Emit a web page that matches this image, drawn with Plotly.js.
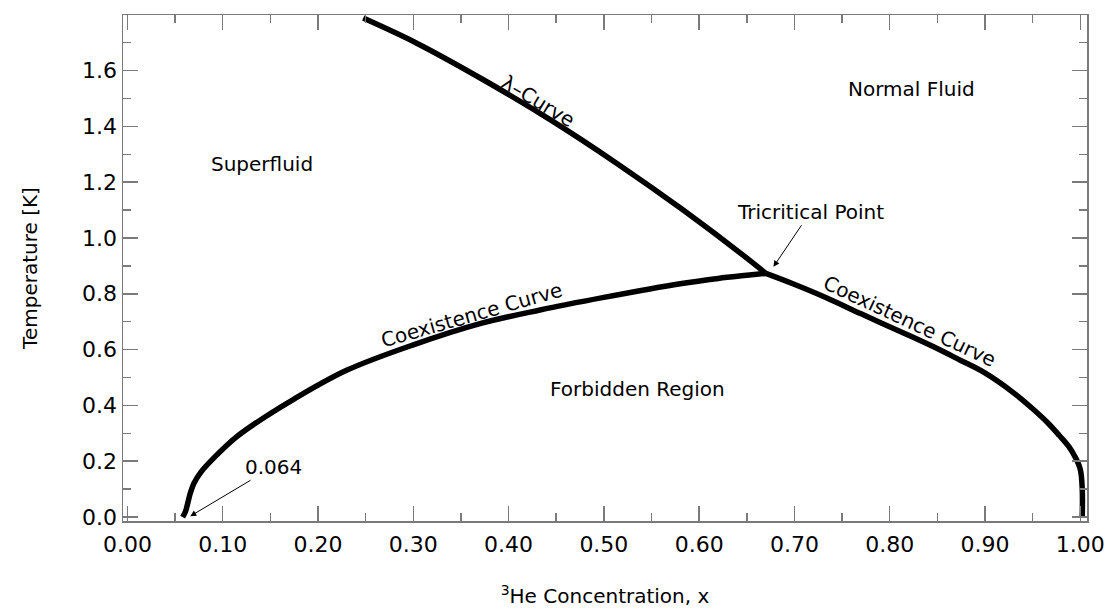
<!DOCTYPE html>
<html>
<head>
<meta charset="utf-8">
<script src="https://cdn.plot.ly/plotly-3.0.1.min.js"></script>
<style>html,body{margin:0;padding:0;background:#fff;}#chart{width:1107px;height:612px;}</style>
</head>
<body>
<div id="chart"></div>
<script>
// Lambda curve (superfluid transition line)
const lambdaX = [0.2475, 0.3036, 0.3735, 0.4436, 0.5137, 0.5836, 0.6537, 0.670];
const lambdaT = [1.788, 1.698, 1.567, 1.424, 1.267, 1.099, 0.918, 0.873];

// Coexistence curve, He-4 rich (left) branch
const coexLeftX = [0.058, 0.061, 0.063, 0.066, 0.070, 0.077, 0.090, 0.1145, 0.146, 0.174, 0.230, 0.300, 0.370, 0.433, 0.500, 0.580, 0.620, 0.650, 0.670];
const coexLeftT = [0.000, 0.020, 0.045, 0.085, 0.122, 0.160, 0.209, 0.287, 0.362, 0.421, 0.5255, 0.617, 0.693, 0.742, 0.787, 0.836, 0.855, 0.866, 0.873];

// Coexistence curve, He-3 rich (right) branch
const coexRightX = [0.670, 0.699, 0.734, 0.770, 0.811, 0.846, 0.874, 0.899, 0.930, 0.950, 0.966, 0.978, 0.988, 0.995, 1.000, 1.002, 1.002];
const coexRightT = [0.873, 0.835, 0.785, 0.728, 0.665, 0.610, 0.562, 0.518, 0.445, 0.388, 0.337, 0.292, 0.252, 0.212, 0.170, 0.100, 0.000];

const xTickVals = [0, 0.1, 0.2, 0.3, 0.4, 0.5, 0.6, 0.7, 0.8, 0.9, 1.0];
const yTickVals = [0, 0.2, 0.4, 0.6, 0.8, 1.0, 1.2, 1.4, 1.6];

const FONT = '"DejaVu Sans", "Liberation Sans", sans-serif';
const lineStyle = {color: '#000', width: 5.5, shape: 'spline', smoothing: 1.0};

const traces = [
  {x: lambdaX, y: lambdaT, mode: 'lines', line: lineStyle, hoverinfo: 'skip'},
  {x: coexLeftX, y: coexLeftT, mode: 'lines', line: lineStyle, hoverinfo: 'skip'},
  {x: coexRightX, y: coexRightT, mode: 'lines', line: lineStyle, hoverinfo: 'skip'}
];

const axisCommon = {
  showgrid: false, zeroline: false, showline: true, linecolor: '#7a7a7a', linewidth: 1.5,
  mirror: 'allticks', ticks: 'inside', ticklen: 15, tickwidth: 1.5, tickcolor: '#7a7a7a',
  tickfont: {family: FONT, size: 22, color: '#000'}
};

const textFont = {family: FONT, size: 20, color: '#000'};

const layout = {
  width: 1107, height: 612,
  margin: {l: 123, r: 20, t: 15, b: 91},
  paper_bgcolor: '#fff', plot_bgcolor: '#fff',
  showlegend: false,
  xaxis: Object.assign({}, axisCommon, {
    range: [-0.0046, 1.007], tickvals: xTickVals, tickformat: '.2f', ticklabelstandoff: 3,
    minor: {dtick: 0.05, tick0: 0, ticks: 'inside', ticklen: 8, tickwidth: 1.5, tickcolor: '#7a7a7a', showgrid: false},
    title: {text: '<sup>3</sup>He Concentration, x', font: {family: FONT, size: 20, color: '#000'}, standoff: 33}
  }),
  yaxis: Object.assign({}, axisCommon, {
    range: [-0.0143, 1.799], tickvals: yTickVals, tickformat: '.1f',
    minor: {dtick: 0.1, tick0: 0, ticks: 'inside', ticklen: 8, tickwidth: 1.5, tickcolor: '#7a7a7a', showgrid: false},
    title: {text: 'Temperature [K]', font: {family: FONT, size: 20, color: '#000'}, standoff: 39}
  }),
  annotations: [
    {x: 0.141, y: 1.266, text: 'Superfluid', showarrow: false, font: textFont},
    {x: 0.823, y: 1.535, text: 'Normal Fluid', showarrow: false, font: textFont},
    {x: 0.535, y: 0.460, text: 'Forbidden Region', showarrow: false, font: textFont},
    {x: 0.678, y: 0.897, ax: 0.717, ay: 1.094, axref: 'x', ayref: 'y', text: 'Tricritical Point', font: textFont,
     showarrow: true, arrowhead: 2, arrowsize: 1.2, arrowwidth: 1, arrowcolor: '#000', standoff: 0},
    {x: 0.431, y: 1.492, text: 'λ–Curve', showarrow: false, font: textFont, textangle: 31},
    {x: 0.361, y: 0.7226, text: 'Coexistence Curve', showarrow: false, font: textFont, textangle: -16},
    {x: 0.8206, y: 0.703, text: 'Coexistence Curve', showarrow: false, font: textFont, textangle: 25},
    {x: 0.066, y: 0.003, ax: 0.153, ay: 0.180, axref: 'x', ayref: 'y', text: '0.064', font: textFont,
     showarrow: true, arrowhead: 2, arrowsize: 1.2, arrowwidth: 1, arrowcolor: '#000', standoff: 0}
  ]
};

Plotly.newPlot('chart', traces, layout, {staticPlot: true, displayModeBar: false});
</script>
</body>
</html>
